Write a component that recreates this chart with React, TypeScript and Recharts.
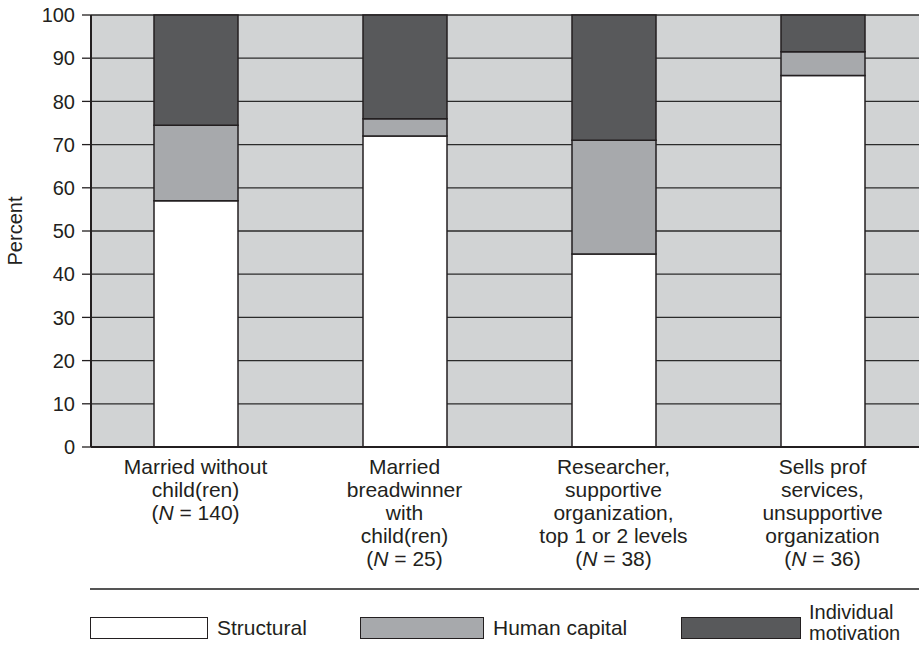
import { BarChart, Bar, XAxis, YAxis, CartesianGrid, Legend } from "recharts";

const categories = ["married", "breadwinner", "researcher", "sells"];
const categoryLines = [
  ["Married without", "child(ren)", "(N = 140)"],
  ["Married", "breadwinner", "with", "child(ren)", "(N = 25)"],
  ["Researcher,", "supportive", "organization,", "top 1 or 2 levels", "(N = 38)"],
  ["Sells prof", "services,", "unsupportive", "organization", "(N = 36)"],
];
const structural = [57, 72, 44.7, 86];
const humanCapital = [17.5, 4, 26.3, 5.5];
const individualMotivation = [25.5, 24, 29, 8.5];
const yTicks = [0, 10, 20, 30, 40, 50, 60, 70, 80, 90, 100];

const seriesNames = ["Structural", "Human capital", "Individual motivation"];
const seriesColors = ["#ffffff", "#a7a9ac", "#58595b"];

const data = categories.map((c, i) => ({
  name: c,
  structural: structural[i],
  human: humanCapital[i],
  individual: individualMotivation[i],
}));

const FONT = "'Liberation Sans', Arial, Helvetica, sans-serif";
const INK = "#231f20";

function CategoryTick(props: any) {
  const { x, y, payload } = props;
  const lines = categoryLines[payload.index] || [];
  return (
    <text x={x} y={y} textAnchor="middle" fill={INK} fontSize={21} fontFamily={FONT}>
      {lines.map((line, i) => {
        const m = line.match(/^\(N = (.*)\)$/);
        return (
          <tspan key={i} x={x} dy={i === 0 ? 19 : 23}>
            {m ? (
              <>
                (<tspan fontStyle="italic">N</tspan> = {m[1]})
              </>
            ) : (
              line
            )}
          </tspan>
        );
      })}
    </text>
  );
}

function PercentLabel(props: any) {
  const vb = props.viewBox || { y: 15, height: 432 };
  const cy = vb.y + vb.height / 2;
  return (
    <text
      x={15}
      y={cy}
      transform={`rotate(-90, 15, ${cy})`}
      textAnchor="middle"
      dominantBaseline="central"
      fill={INK}
      fontSize={20}
      fontFamily={FONT}
    >
      Percent
    </text>
  );
}

function LegendBox() {
  const items = [
    { left: 90, width: 118, label: 90 + 127 },
    { left: 360, width: 124, label: 360 + 133 },
    { left: 681, width: 120, label: 681 + 128 },
  ];
  return (
    <div style={{ position: "relative", width: 927, height: 62, fontFamily: FONT, color: INK }}>
      <div
        style={{ position: "absolute", left: 90, right: 0, top: 1, height: 2, background: "#555" }}
      />
      {items.map((it, i) => (
        <div key={i}>
          <div
            style={{
              position: "absolute",
              left: it.left,
              top: 30,
              width: it.width,
              height: 22,
              boxSizing: "border-box",
              border: `1.5px solid ${INK}`,
              background: seriesColors[i],
            }}
          />
          <div
            style={{
              position: "absolute",
              left: it.label,
              top: i === 2 ? 15 : 29,
              fontSize: i === 2 ? 20 : 21,
              lineHeight: i === 2 ? "21px" : "24px",
              whiteSpace: "nowrap",
            }}
          >
            {i === 2 ? (
              <>
                Individual
                <br />
                motivation
              </>
            ) : (
              seriesNames[i]
            )}
          </div>
        </div>
      ))}
    </div>
  );
}

export default function App() {
  return (
    <div
      style={{
        position: "absolute",
        left: 0,
        top: 0,
        width: 919,
        height: 649,
        overflow: "hidden",
        background: "#fff",
      }}
    >
      <BarChart
        width={927}
        height={649}
        data={data}
        margin={{ top: 15, right: 0, left: 0, bottom: 0 }}
        barSize={84}
      >
        <CartesianGrid
          vertical={false}
          fill="#d1d3d4"
          fillOpacity={1}
          stroke="#2b2b2b"
          strokeWidth={1.3}
          horizontalValues={yTicks}
        />
        <XAxis
          dataKey="name"
          height={140}
          tickLine={false}
          axisLine={{ stroke: INK, strokeWidth: 2 }}
          tick={<CategoryTick />}
          interval={0}
        />
        <YAxis
          width={91}
          domain={[0, 100]}
          ticks={yTicks}
          interval={0}
          tickSize={9}
          tickMargin={7}
          tickLine={{ stroke: INK, strokeWidth: 1.3 }}
          axisLine={{ stroke: INK, strokeWidth: 2 }}
          tick={{ fill: INK, fontSize: 20, fontFamily: FONT }}
          label={<PercentLabel />}
        />
        <Legend
          verticalAlign="bottom"
          align="left"
          content={<LegendBox />}
          wrapperStyle={{ left: 0, width: 927 }}
        />
        <Bar
          dataKey="structural"
          name={seriesNames[0]}
          stackId="a"
          fill={seriesColors[0]}
          stroke={INK}
          strokeWidth={1.5}
          isAnimationActive={false}
        />
        <Bar
          dataKey="human"
          name={seriesNames[1]}
          stackId="a"
          fill={seriesColors[1]}
          stroke={INK}
          strokeWidth={1.5}
          isAnimationActive={false}
        />
        <Bar
          dataKey="individual"
          name={seriesNames[2]}
          stackId="a"
          fill={seriesColors[2]}
          stroke={INK}
          strokeWidth={1.5}
          isAnimationActive={false}
        />
      </BarChart>
    </div>
  );
}
